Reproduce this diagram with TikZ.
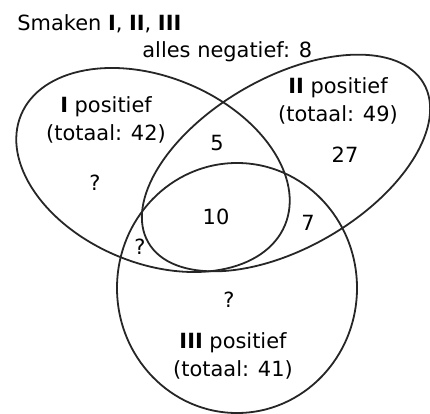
\documentclass[tikz,border=0pt]{standalone}
\usepackage{fontspec}
\setmainfont{DejaVu Sans}
\usetikzlibrary{positioning}

\begin{document}
\begin{tikzpicture}[x=0.5bp, y=-0.5bp, font=\fontsize{10.5}{14}\selectfont,
    setline/.style={draw=black!85, line width=0.9bp},
    setlabel/.style={align=center, inner sep=0pt}]
  \useasboundingbox (0,0) rectangle (430,414);
  % the three sets
  \draw[setline] (153,170) ellipse [x radius=143, y radius=93, rotate=-22.7];
  \draw[setline] (286,163) ellipse [x radius=159, y radius=85, rotate=30];
  \draw[setline] (237,288) ellipse [x radius=120, y radius=125];
  % texts
  \node[anchor=base west, inner sep=0pt] (title) at (17,31) {Smaken \textbf{I}, \textbf{II}, \textbf{III}};
  \node[anchor=base west, inner sep=0pt] (none) at (142,58) {alles negatief: 8};
  \node[setlabel] (setI) at (106,120) {\textbf{I} positief\\(totaal: 42)};
  \node[setlabel] (setII) at (338,101) {\textbf{II} positief\\(totaal: 49)};
  \node[setlabel] (setIII) at (233,356) {\textbf{III} positief\\(totaal: 41)};
  \node (onlyI) at (95,183) {?};
  \node (onlyII) at (345,155) {27};
  \node (onlyIII) at (229,300) {?};
  \node (IandII) at (217,143) {5};
  \node (IandIII) at (140,247) {?};
  \node (IIandIII) at (308,223) {7};
  \node (all) at (216,217) {10};
\end{tikzpicture}
\end{document}
